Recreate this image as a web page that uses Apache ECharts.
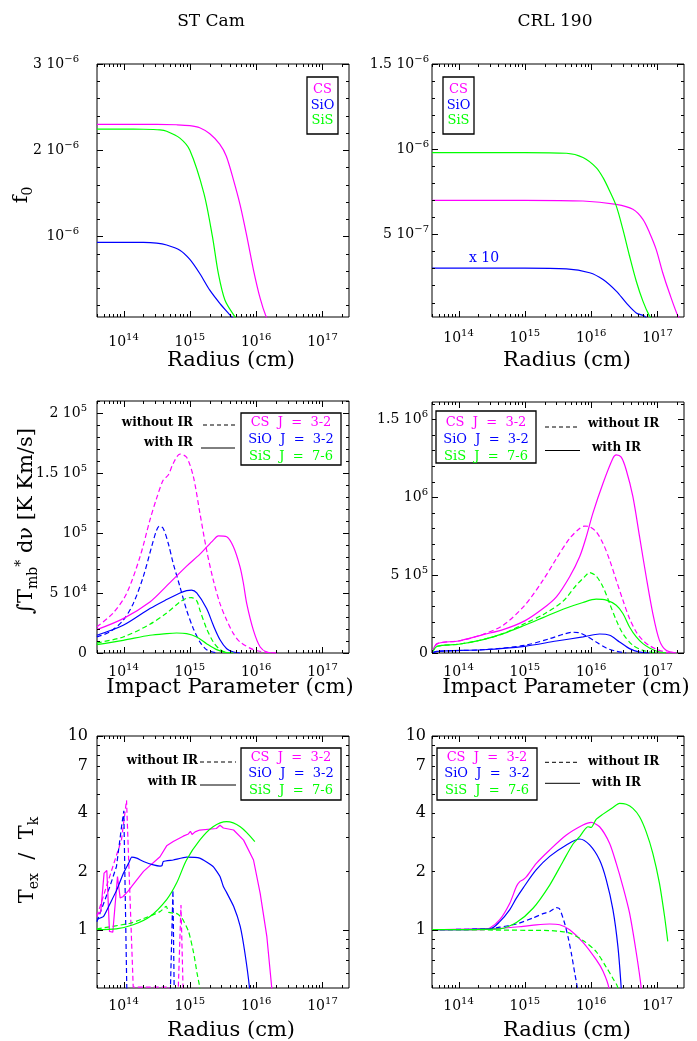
<!DOCTYPE html>
<html><head><meta charset="utf-8">
<script src="https://cdn.jsdelivr.net/npm/echarts@6/dist/echarts.min.js"></script>
<style>html,body{margin:0;padding:0;background:#fff}#c{width:697px;height:1041px}</style>
</head><body><div id="c"></div>
<script>
// ================= DATA =================
const xTickValues = [1e14, 1e15, 1e16, 1e17];
const xTickLabels = [['10','14'],['10','15'],['10','16'],['10','17']];

const p1TickValues = [1e-6, 2e-6, 3e-6];
const p1TickLabels = [['10','\u22126'],['2 10','\u22126'],['3 10','\u22126']];
const p2TickValues = [5e-7, 1e-6, 1.5e-6];
const p2TickLabels = [['5 10','\u22127'],['10','\u22126'],['1.5 10','\u22126']];
const p3TickValues = [0, 5e4, 1e5, 1.5e5, 2e5];
const p3TickLabels = [['0',''],['5 10','4'],['10','5'],['1.5 10','5'],['2 10','5']];
const p4TickValues = [0, 5e5, 1e6, 1.5e6];
const p4TickLabels = [['0',''],['5 10','5'],['10','6'],['1.5 10','6']];
const texTickValues = [1, 2, 4, 7, 10];
const texTickLabels = [['1',''],['2',''],['4',''],['7',''],['10','']];

// Panel 1: ST Cam abundance f0
const stCamF0CS  = [[3.98e13,2.30e-6],[1e14,2.30e-6],[3.16e14,2.30e-6],[6.31e14,2.295e-6],[1e15,2.285e-6],[1.41e15,2.26e-6],[2.0e15,2.19e-6],[2.82e15,2.07e-6],[3.55e15,1.93e-6],[4.57e15,1.65e-6],[5.75e15,1.36e-6],[7.24e15,1.0e-6],[9.12e15,0.61e-6],[1.15e16,0.28e-6],[1.41e16,0.07e-6],[1.6e16,0]];
const stCamF0SiO = [[3.98e13,0.93e-6],[1e14,0.93e-6],[2e14,0.93e-6],[3.16e14,0.922e-6],[4.47e14,0.90e-6],[7.08e14,0.84e-6],[1e15,0.733e-6],[1.41e15,0.57e-6],[2e15,0.376e-6],[2.85e15,0.221e-6],[4.27e15,0.066e-6],[5e15,0]];
const stCamF0SiS = [[3.98e13,2.244e-6],[1e14,2.244e-6],[2e14,2.243e-6],[3.55e14,2.236e-6],[4.47e14,2.22e-6],[7.08e14,2.14e-6],[1e15,2.0e-6],[1.63e15,1.5e-6],[2.19e15,1.0e-6],[2.69e15,0.57e-6],[3.39e15,0.26e-6],[4.79e15,0.066e-6],[5.5e15,0]];

// Panel 2: CRL 190 abundance f0 (SiO shown x 10)
const crlF0CS  = [[3.98e13,0.70e-6],[1e15,0.70e-6],[7.53e15,0.696e-6],[2.39e16,0.676e-6],[4.26e16,0.647e-6],[6.03e16,0.588e-6],[7.59e16,0.51e-6],[9.55e16,0.412e-6],[1.2e17,0.275e-6],[1.51e17,0.157e-6],[2.04e17,0.02e-6],[2.3e17,0]];
const crlF0SiO = [[3.98e13,0.302e-6],[1e15,0.302e-6],[4.23e15,0.298e-6],[9.48e15,0.275e-6],[1.51e16,0.235e-6],[2.39e16,0.167e-6],[3.38e16,0.098e-6],[4.79e16,0.039e-6],[6.38e16,0.02e-6],[7e16,0]];
const crlF0SiS = [[3.98e13,0.98e-6],[1e15,0.98e-6],[4.23e15,0.976e-6],[7.53e15,0.951e-6],[1.19e16,0.892e-6],[1.51e16,0.833e-6],[1.90e16,0.755e-6],[2.39e16,0.667e-6],[3.01e16,0.529e-6],[3.79e16,0.373e-6],[4.79e16,0.225e-6],[6.03e16,0.108e-6],[7.59e16,0.02e-6],[8.5e16,0]];

// Panel 3: ST Cam integrated intensity (K km/s)
const stCamIntCSnoIR  = [[3.96e13,21.7e3],[6.98e13,33.4e3],[1.11e14,49.6e3],[1.77e14,80.2e3],[2.50e14,110.9e3],[3.15e14,129.0e3],[3.97e14,144.3e3],[4.73e14,148.5e3],[5.62e14,158.2e3],[7.10e14,166.0e3],[8.95e14,163.3e3],[1.13e15,147.1e3],[1.42e15,116.5e3],[1.79e15,85.8e3],[2.26e15,60.7e3],[2.85e15,41.2e3],[3.60e15,27.3e3],[4.54e15,16.2e3],[5.71e15,9.2e3],[9.10e15,2.8e3],[1.45e16,0.6e3],[2.04e16,0]];
const stCamIntSiOnoIR = [[3.96e13,13.4e3],[6.22e13,17.6e3],[9.89e13,27.3e3],[1.40e14,41.2e3],[1.98e14,63.5e3],[2.65e14,88.6e3],[3.15e14,102.5e3],[3.46e14,105.9e3],[3.97e14,103.9e3],[4.73e14,91.4e3],[5.62e14,74.7e3],[7.10e14,55.2e3],[8.95e14,35.7e3],[1.13e15,20.3e3],[1.42e15,9.2e3],[1.79e15,2.8e3],[2.54e15,0]];
const stCamIntSiSnoIR = [[3.96e13,8.4e3],[9.89e13,13.4e3],[2.50e14,24.0e3],[4.47e14,33.4e3],[7.10e14,42.6e3],[8.95e14,45.7e3],[1.06e15,46.2e3],[1.27e15,43.5e3],[1.42e15,35.7e3],[1.79e15,20.3e3],[2.26e15,9.2e3],[2.85e15,2.8e3],[3.60e15,0]];
const stCamIntCSIR    = [[3.96e13,19.5e3],[9.89e13,28.7e3],[2.50e14,42.6e3],[4.47e14,56.0e3],[8.95e14,72.5e3],[1.42e15,82.5e3],[2.26e15,94.2e3],[2.69e15,97.8e3],[3.60e15,97.0e3],[4.54e15,88.6e3],[5.71e15,71.9e3],[6.43e15,58.0e3],[7.21e15,41.2e3],[9.10e15,18.9e3],[1.15e16,5.0e3],[1.45e16,0.8e3],[2.04e16,0]];
const stCamIntSiOIR   = [[3.96e13,14.8e3],[9.89e13,23.1e3],[2.50e14,37.1e3],[4.47e14,44.6e3],[7.10e14,50.1e3],[8.95e14,52.1e3],[1.06e15,52.4e3],[1.27e15,50.1e3],[1.79e15,37.1e3],[2.26e15,23.1e3],[2.85e15,11.1e3],[3.60e15,3.6e3],[4.54e15,0.8e3],[5.71e15,0]];
const stCamIntSiSIR   = [[3.96e13,7.0e3],[9.89e13,10.6e3],[2.50e14,14.8e3],[4.47e14,16.2e3],[6.31e14,16.7e3],[8.95e14,16.2e3],[1.27e15,13.4e3],[1.79e15,7.8e3],[2.54e15,2.8e3],[3.60e15,0.3e3],[4.54e15,0]];

// Panel 4: CRL 190 integrated intensity (K km/s)
const crlIntCSIR    = [[3.98e13,0],[4.78e13,0.060e6],[1e14,0.077e6],[2.35e14,0.118e6],[4.70e14,0.150e6],[9.96e14,0.206e6],[1.88e15,0.285e6],[2.99e15,0.360e6],[4.74e15,0.489e6],[6.70e15,0.617e6],[8.45e15,0.746e6],[1.06e16,0.896e6],[1.51e16,1.089e6],[2.13e16,1.249e6],[2.39e16,1.271e6],[2.84e16,1.256e6],[3.38e16,1.174e6],[4.26e16,1.003e6],[5.37e16,0.746e6],[6.76e16,0.489e6],[8.51e16,0.253e6],[1.07e17,0.081e6],[1.35e17,0.017e6],[1.91e17,0]];
const crlIntCSnoIR  = [[3.98e13,0],[4.78e13,0.060e6],[1e14,0.077e6],[2.35e14,0.120e6],[4.70e14,0.178e6],[9.96e14,0.306e6],[1.88e15,0.467e6],[2.99e15,0.606e6],[4.74e15,0.735e6],[6.70e15,0.799e6],[7.98e15,0.814e6],[9.48e15,0.810e6],[1.19e16,0.778e6],[1.51e16,0.703e6],[1.90e16,0.596e6],[2.39e16,0.467e6],[3.01e16,0.339e6],[3.79e16,0.221e6],[4.79e16,0.135e6],[6.03e16,0.081e6],[7.59e16,0.047e6],[1.07e17,0.017e6],[1.52e17,0]];
const crlIntSiSIR   = [[3.98e13,0],[4.78e13,0.043e6],[1e14,0.056e6],[2.35e14,0.086e6],[4.70e14,0.124e6],[9.96e14,0.178e6],[1.88e15,0.227e6],[3.76e15,0.281e6],[7.53e15,0.324e6],[1.19e16,0.345e6],[1.69e16,0.339e6],[2.39e16,0.306e6],[3.01e16,0.253e6],[3.79e16,0.167e6],[4.79e16,0.103e6],[6.03e16,0.060e6],[7.59e16,0.032e6],[9.55e16,0.013e6],[1.35e17,0]];
const crlIntSiSnoIR = [[3.98e13,0],[4.78e13,0.043e6],[1e14,0.056e6],[2.35e14,0.086e6],[4.70e14,0.124e6],[9.96e14,0.189e6],[1.88e15,0.246e6],[3.76e15,0.332e6],[5.97e15,0.435e6],[7.98e15,0.489e6],[9.48e15,0.516e6],[1.19e16,0.493e6],[1.51e16,0.424e6],[1.90e16,0.317e6],[2.39e16,0.210e6],[3.01e16,0.124e6],[4.26e16,0.049e6],[6.03e16,0.017e6],[9.55e16,0]];
const crlIntSiOIR   = [[3.98e13,0],[4.78e13,0.011e6],[2.35e14,0.021e6],[9.96e14,0.043e6],[2.99e15,0.077e6],[7.53e15,0.103e6],[1.34e16,0.122e6],[1.90e16,0.114e6],[2.68e16,0.071e6],[3.79e16,0.028e6],[5.37e16,0.006e6],[7.59e16,0]];
const crlIntSiOnoIR = [[3.98e13,0],[4.78e13,0.011e6],[2.35e14,0.021e6],[9.96e14,0.049e6],[2.37e15,0.092e6],[3.76e15,0.120e6],[5.32e15,0.133e6],[6.70e15,0.129e6],[8.45e15,0.109e6],[1.19e16,0.071e6],[1.69e16,0.032e6],[2.39e16,0.011e6],[3.38e16,0]];

// Panel 5: ST Cam Tex/Tk
const stCamTexCSIR    = [[3.96e13,1.19],[4.54e13,1.24],[5.09e13,1.96],[5.60e13,2.02],[6.14e13,0.98],[6.89e13,0.97],[8.11e13,1.88],[8.89e13,1.46],[9.77e13,1.48],[1.19e14,1.59],[1.32e14,1.67],[2.0e14,2.0],[3.55e14,2.38],[4.47e14,2.71],[5.62e14,2.85],[7.94e14,3.04],[9.5e14,3.12],[1.02e15,3.22],[1.08e15,3.10],[1.2e15,3.2],[1.41e15,3.27],[2.51e15,3.33],[2.85e15,3.46],[3.2e15,3.35],[4.57e15,3.27],[6.46e15,2.90],[9.12e15,2.29],[1.15e16,1.54],[1.45e16,0.92],[1.72e16,0.5],[2e16,0.3]];
const stCamTexSiOIR   = [[3.96e13,1.13],[5.0e13,1.17],[6.31e13,1.37],[7.94e13,1.61],[1e14,1.96],[1.19e14,2.20],[1.33e14,2.37],[1.58e14,2.34],[2.0e14,2.25],[2.82e14,2.16],[3.55e14,2.13],[3.8e14,2.14],[3.98e14,2.25],[5.62e14,2.29],[8.91e14,2.37],[1.41e15,2.34],[2.24e15,2.12],[2.85e15,1.88],[3.2e15,1.67],[3.5e15,1.58],[4.57e15,1.32],[5.75e15,1.04],[6.76e15,0.76],[7.94e15,0.5],[9e15,0.3]];
const stCamTexSiSIR   = [[3.96e13,1.0],[7.76e13,1.01],[1.40e14,1.06],[2.51e14,1.17],[4.47e14,1.43],[6.31e14,1.74],[8.91e14,2.29],[1.41e15,2.90],[2.24e15,3.40],[3.59e15,3.61],[5.75e15,3.40],[9.55e15,2.85]];
const stCamTexCSnoIR  = [[3.96e13,1.17],[6.17e13,1.88],[8.32e13,2.58],[9.3e13,2.9],[1.11e14,4.66],[1.15e14,4.77],[1.40e14,0.505],[4.9e14,0.505],[4.95e14,0.3],[6.6e14,0.3],[6.7e14,0.5],[7.35e14,1.34],[7.9e14,0.5],[8.0e14,0.3]];
const stCamTexSiOnoIR = [[3.96e13,1.10],[6.22e13,1.67],[7.83e13,2.12],[9.33e13,3.40],[1.01e14,4.11],[1.12e14,0.5],[1.15e14,0.3],[5.0e14,0.3],[5.1e14,0.5],[5.56e14,1.6],[5.8e14,0.5],[5.9e14,0.3]];
const stCamTexSiSnoIR = [[3.96e13,1.01],[1.26e14,1.08],[2.25e14,1.16],[3.57e14,1.24],[4.41e14,1.32],[4.79e14,1.23],[6.38e14,1.21],[7.59e14,1.15],[9.55e14,0.98],[1.14e15,0.76],[1.28e15,0.60],[1.41e15,0.5],[1.5e15,0.3]];

// Panel 6: CRL 190 Tex/Tk
const crlTexCSIR    = [[3.98e13,1.0],[2.35e14,1.0],[2.97e14,1.02],[4.19e14,1.126],[5.93e14,1.37],[7.46e14,1.67],[8.38e14,1.77],[9.40e14,1.81],[1.06e15,1.88],[1.49e15,2.20],[2.37e15,2.58],[4.23e15,3.08],[7.53e15,3.47],[1.0e16,3.58],[1.34e16,3.40],[1.90e16,2.79],[2.39e16,2.20],[3.01e16,1.67],[3.79e16,1.22],[4.79e16,0.76],[5.69e16,0.5],[6.2e16,0.35]];
const crlTexSiOIR   = [[3.98e13,1.0],[2.97e14,1.01],[4.19e14,1.10],[5.93e14,1.27],[7.46e14,1.455],[9.40e14,1.64],[1.49e15,2.04],[2.37e15,2.39],[4.23e15,2.74],[6.70e15,2.94],[9.48e15,2.74],[1.34e16,2.29],[1.69e16,1.81],[2.13e16,1.27],[2.53e16,0.82],[2.84e16,0.5],[3.0e16,0.35]];
const crlTexSiSIR   = [[3.98e13,1.0],[4.19e14,1.01],[7.46e14,1.09],[1.33e15,1.29],[2.37e15,1.70],[3.76e15,2.25],[5.32e15,2.77],[6.70e15,3.02],[7.53e15,3.20],[8.96e15,3.40],[1.0e16,3.37],[1.19e16,3.71],[1.51e16,3.95],[2.13e16,4.28],[2.68e16,4.49],[3.38e16,4.44],[4.26e16,4.23],[5.37e16,3.83],[6.76e16,3.20],[8.51e16,2.48],[1.07e17,1.74],[1.28e17,1.17],[1.43e17,0.87]];
const crlTexCSnoIR  = [[3.98e13,1.0],[4.19e14,1.016],[9.40e14,1.04],[1.49e15,1.06],[2.37e15,1.07],[3.35e15,1.06],[4.74e15,1.0],[7.53e15,0.86],[1.19e16,0.70],[1.51e16,0.61],[1.85e16,0.5],[2.0e16,0.35]];
const crlTexSiOnoIR = [[3.98e13,1.0],[2.97e14,1.01],[4.19e14,1.03],[7.46e14,1.07],[1.33e15,1.15],[1.88e15,1.21],[2.37e15,1.24],[2.99e15,1.30],[3.35e15,1.28],[3.98e15,1.08],[4.47e15,0.92],[5.01e15,0.76],[5.64e15,0.60],[6.18e15,0.5],[6.5e15,0.35]];
const crlTexSiSnoIR = [[3.98e13,1.0],[2.37e15,0.99],[3.35e15,0.98],[4.74e15,0.96],[7.53e15,0.88],[1.19e16,0.77],[1.69e16,0.64],[2.13e16,0.56],[2.53e16,0.5],[2.7e16,0.35]];

// ================= STYLE / LAYOUT =================
const C_CS = '#ff00ff', C_SIO = '#0000ff', C_SIS = '#00ff00';
const SERIF = '"DejaVu Serif", serif';
const DASH = [5, 3];
const XMIN = 3.981e13, XMAX = 2.512e17;

const grids = [
  {left:97,  top:64,  width:252, height:253},
  {left:432, top:64,  width:252, height:253},
  {left:97,  top:401, width:252, height:252},
  {left:432, top:402, width:252, height:251},
  {left:97,  top:736, width:252, height:252},
  {left:432, top:736, width:252, height:252}
];

function logMinor() {
  const out = [];
  for (let e = 13; e <= 17; e++) for (let m = 2; m <= 9; m++) out.push(m * Math.pow(10, e));
  return out.filter(function (v) { return v > XMIN && v < XMAX; });
}
function linMinor(step, n, skipEvery) {
  const out = [];
  for (let i = 1; i <= n; i++) if (i % skipEvery !== 0) out.push(i * step);
  return out;
}

function fmt(vals, labs) {
  return function (v) {
    for (let i = 0; i < vals.length; i++) {
      const t = vals[i];
      if (Math.abs(v - t) <= 1e-6 * Math.max(Math.abs(t), 1e-30)) {
        const b = labs[i][0], e = labs[i][1];
        return e ? '{b|' + b + '}{s|' + e + '}' : '{b|' + b + '}';
      }
    }
    return '';
  };
}
function rich(size) {
  return {
    b: {fontSize: size, fontFamily: SERIF, color: '#000'},
    s: {fontSize: Math.round(size * 0.7), fontFamily: SERIF, color: '#000', padding: [0, 0, 10, 0]}
  };
}

const xMargins = [15, 11, 9, 9, 8, 8];
const ySpecs = [
  {type: 'value', min: 0.065e-6, max: 3e-6, major: p1TickValues, minor: linMinor(0.2e-6, 14, 5), labelVals: p1TickValues, labels: p1TickLabels, margin: 18, fs: 14},
  {type: 'value', min: 0.015e-6, max: 1.5e-6, major: p2TickValues, minor: linMinor(0.1e-6, 14, 5), labelVals: p2TickValues, labels: p2TickLabels, margin: 3, fs: 14},
  {type: 'value', min: 0, max: 2.103e5, major: p3TickValues, minor: linMinor(1e4, 21, 5), labelVals: p3TickValues, labels: p3TickLabels, margin: 10, fs: 14},
  {type: 'value', min: 0, max: 1.61e6, major: p4TickValues, minor: linMinor(1e5, 16, 5), labelVals: p4TickValues, labels: p4TickLabels, margin: 4, fs: 14},
  {type: 'log', min: 0.5, max: 10, major: [1, 10], minor: [0.6, 0.7, 0.8, 0.9, 2, 3, 4, 5, 6, 7, 8, 9], labelVals: texTickValues, labels: texTickLabels, margin: 9, fs: 16},
  {type: 'log', min: 0.5, max: 10, major: [1, 10], minor: [0.6, 0.7, 0.8, 0.9, 2, 3, 4, 5, 6, 7, 8, 9], labelVals: texTickValues, labels: texTickLabels, margin: 6, fs: 16}
];

const xAxes = [], yAxes = [];
grids.forEach(function (g, gi) {
  xAxes.push({gridIndex: gi, type: 'log', logBase: 10, min: XMIN, max: XMAX, position: 'bottom',
    splitLine: {show: false}, axisLine: {show: false}, axisTick: {show: false},
    axisLabel: {show: true, customValues: xTickValues, formatter: fmt(xTickValues, xTickLabels), margin: xMargins[gi], rich: rich(14)}});
  const s = ySpecs[gi];
  const ya = {gridIndex: gi, type: s.type, min: s.min, max: s.max, position: 'left',
    splitLine: {show: false}, axisLine: {show: false}, axisTick: {show: false},
    axisLabel: {show: true, customValues: s.labelVals, formatter: fmt(s.labelVals, s.labels), margin: s.margin, rich: rich(s.fs)}};
  if (s.type === 'log') ya.logBase = 10;
  yAxes.push(ya);
});

const series = [];
function S(gi, data, color, dashed, smooth) {
  series.push({type: 'line', xAxisIndex: gi, yAxisIndex: gi, data: data,
    showSymbol: false, symbol: 'none', clip: true, silent: true, animation: false,
    smooth: smooth === undefined ? 0.3 : smooth,
    lineStyle: {color: color, width: 1.2, type: dashed ? DASH : 'solid'}});
}
S(0, stCamF0CS, C_CS); S(0, stCamF0SiO, C_SIO); S(0, stCamF0SiS, C_SIS);
S(1, crlF0CS, C_CS); S(1, crlF0SiO, C_SIO); S(1, crlF0SiS, C_SIS);
S(2, stCamIntCSnoIR, C_CS, 1); S(2, stCamIntSiOnoIR, C_SIO, 1); S(2, stCamIntSiSnoIR, C_SIS, 1);
S(2, stCamIntCSIR, C_CS); S(2, stCamIntSiOIR, C_SIO); S(2, stCamIntSiSIR, C_SIS);
S(3, crlIntCSnoIR, C_CS, 1); S(3, crlIntSiOnoIR, C_SIO, 1); S(3, crlIntSiSnoIR, C_SIS, 1);
S(3, crlIntCSIR, C_CS); S(3, crlIntSiOIR, C_SIO); S(3, crlIntSiSIR, C_SIS);
S(4, stCamTexCSnoIR, C_CS, 1, false); S(4, stCamTexSiOnoIR, C_SIO, 1, false); S(4, stCamTexSiSnoIR, C_SIS, 1, 0.2);
S(4, stCamTexCSIR, C_CS, 0, false); S(4, stCamTexSiOIR, C_SIO, 0, 0.15); S(4, stCamTexSiSIR, C_SIS, 0, 0.3);
S(5, crlTexCSnoIR, C_CS); S(5, crlTexSiOnoIR, C_SIO, 1, 0.2); S(5, crlTexSiSnoIR, C_SIS, 1);
S(5, crlTexCSIR, C_CS, 0, 0.25); S(5, crlTexSiOIR, C_SIO, 0, 0.3); S(5, crlTexSiSIR, C_SIS, 0, 0.25);

// axis ticks drawn through the axes' own scales (custom series), mirrored on all four sides
grids.forEach(function (g, gi) {
  const s = ySpecs[gi];
  const yRef = s.min > 0 ? s.min : (s.min + s.max) / 2;
  const data = [];
  xTickValues.forEach(function (v) { data.push([v, yRef, 0, 6]); });
  logMinor().forEach(function (v) { data.push([v, yRef, 0, 3]); });
  s.major.forEach(function (v) { data.push([XMIN * 1.5, v, 1, 6]); });
  s.minor.forEach(function (v) { if (v > s.min && v < s.max) data.push([XMIN * 1.5, v, 1, 3]); });
  series.push({type: 'custom', xAxisIndex: gi, yAxisIndex: gi, silent: true, animation: false, clip: false, z: 5,
    data: data,
    renderItem: function (params, api) {
      const cs = params.coordSys;
      const p = api.coord([api.value(0), api.value(1)]);
      const kind = api.value(2), len = api.value(3);
      const st = {stroke: '#000', lineWidth: 1};
      if (kind === 0) {
        const x = Math.round(p[0]) + 0.5;
        return {type: 'group', children: [
          {type: 'line', shape: {x1: x, y1: cs.y + cs.height, x2: x, y2: cs.y + cs.height - len}, style: st},
          {type: 'line', shape: {x1: x, y1: cs.y, x2: x, y2: cs.y + len}, style: st}
        ]};
      }
      const y = Math.round(p[1]) + 0.5;
      return {type: 'group', children: [
        {type: 'line', shape: {x1: cs.x, y1: y, x2: cs.x + len, y2: y}, style: st},
        {type: 'line', shape: {x1: cs.x + cs.width, y1: y, x2: cs.x + cs.width - len, y2: y}, style: st}
      ]};
    }
  });
});

// ================= ANNOTATIONS =================
const G = [];
function T(x, y, text, o) {
  o = o || {};
  G.push({type: 'text', x: x, y: y, rotation: o.rot || 0, z: 100, silent: true,
    style: {text: text, fill: o.color || '#000', fontSize: o.size || 14, fontFamily: SERIF,
      fontWeight: o.weight || 'normal', align: o.align || 'center', verticalAlign: 'middle', rich: o.rich}});
}
function L(x1, y1, x2, y2, dashed) {
  G.push({type: 'line', z: 100, silent: true, shape: {x1: x1, y1: y1, x2: x2, y2: y2},
    style: {stroke: '#000', lineWidth: 1, lineDash: dashed ? [4, 3] : null}});
}
function R(x, y, w, h) {
  G.push({type: 'rect', z: 99, silent: true, shape: {x: x, y: y, width: w, height: h},
    style: {fill: '#fff', stroke: '#000', lineWidth: 1.3}});
}
const subRich = function (size) {
  return {
    b: {fontSize: size, fontFamily: SERIF, color: '#000'},
    sub: {fontSize: Math.round(size * 0.68), fontFamily: SERIF, color: '#000', padding: [12, 0, 0, 0]},
    sup: {fontSize: Math.round(size * 0.68), fontFamily: SERIF, color: '#000', padding: [0, 0, 12, 0]}
  };
};

T(211, 22, 'ST Cam', {size: 17});
T(555, 22, 'CRL 190', {size: 17});
T(231, 361, 'Radius (cm)', {size: 21});
T(567, 361, 'Radius (cm)', {size: 21});
T(230, 688, 'Impact Parameter (cm)', {size: 21});
T(566, 688, 'Impact Parameter (cm)', {size: 21});
T(231, 1031, 'Radius (cm)', {size: 21});
T(567, 1031, 'Radius (cm)', {size: 21});
T(22, 195, '{b|f}{sub|0}', {rot: Math.PI / 2, rich: subRich(21)});
T(27, 521, '{b|\u222BT}{sub|mb}{sup|*}{b| d\u03BD [K Km/s]}', {rot: Math.PI / 2, rich: subRich(21)});
T(28, 860, '{b|T}{sub|ex}{b|  /  T}{sub|k}', {rot: Math.PI / 2, rich: subRich(21)});

R(307, 77, 31, 57);
T(322.5, 90, 'CS', {color: C_CS, size: 13});
T(322.5, 106, 'SiO', {color: C_SIO, size: 13});
T(322.5, 121, 'SiS', {color: C_SIS, size: 13});
R(443, 77, 31, 57);
T(458.5, 90, 'CS', {color: C_CS, size: 13});
T(458.5, 106, 'SiO', {color: C_SIO, size: 13});
T(458.5, 121, 'SiS', {color: C_SIS, size: 13});
T(484, 258, 'x 10', {color: C_SIO, size: 14});

function lineLegend(bx, by, ys, textLeft, wo, wi) {
  R(bx, by, 100, 52);
  T(bx + 50, ys[0], 'CS  J  =  3-2', {color: C_CS, size: 13});
  T(bx + 50, ys[1], 'SiO  J  =  3-2', {color: C_SIO, size: 13});
  T(bx + 50, ys[2], 'SiS  J  =  7-6', {color: C_SIS, size: 13});
  L(wo.x1, wo.y, wo.x2, wo.y, true);
  L(wi.x1, wi.y, wi.x2, wi.y, false);
  T(wo.tx, wo.ty, 'without IR', {size: 12, weight: 'bold', align: textLeft ? 'left' : 'right'});
  T(wi.tx, wi.ty, 'with IR', {size: 12, weight: 'bold', align: textLeft ? 'left' : 'right'});
}
lineLegend(241, 413, [423, 440, 456.5], false, {x1: 203, x2: 235, y: 425, tx: 193, ty: 423}, {x1: 201, x2: 235, y: 448, tx: 193, ty: 443});
lineLegend(436, 411, [422.5, 440, 456.5], true, {x1: 545, x2: 580, y: 427, tx: 588, ty: 424}, {x1: 545, x2: 580, y: 450.5, tx: 592, ty: 447.5});
lineLegend(241, 748, [757.7, 774, 791], false, {x1: 200, x2: 236, y: 762, tx: 198, ty: 760.7}, {x1: 200, x2: 236, y: 785, tx: 196.7, ty: 782.3});
lineLegend(437, 748, [757.7, 774, 791], true, {x1: 545, x2: 580, y: 762.3, tx: 588, ty: 761.7}, {x1: 545, x2: 580, y: 783.3, tx: 592, ty: 783.3});

const option = {
  animation: false,
  backgroundColor: '#fff',
  grid: grids.map(function (g) {
    return Object.assign({containLabel: false, outerBoundsMode: 'none', show: true,
      borderColor: '#000', borderWidth: 1, backgroundColor: 'transparent'}, g);
  }),
  xAxis: xAxes,
  yAxis: yAxes,
  series: series,
  graphic: {elements: G}
};
const chart = echarts.init(document.getElementById('c'), null, {renderer: 'canvas'});
chart.setOption(option);
</script>
</body></html>
